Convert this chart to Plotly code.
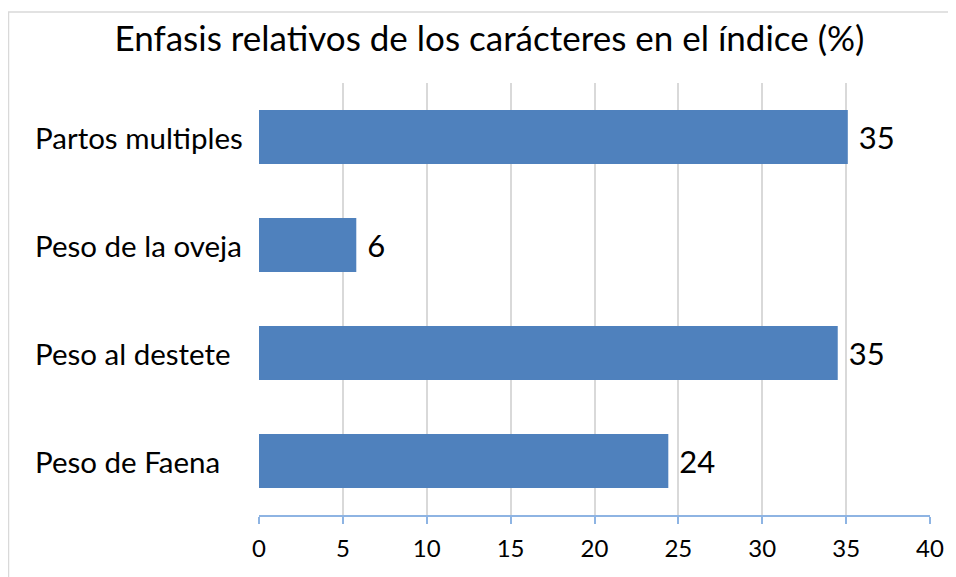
import plotly.graph_objects as go

categories = ["Partos multiples", "Peso de la oveja", "Peso al destete", "Peso de Faena"]
values = [35.1, 5.8, 34.5, 24.4]
value_labels = ["35", "6", "35", "24"]
x_ticks = [0, 5, 10, 15, 20, 25, 30, 35, 40]
title_text = "Enfasis relativos de los carácteres en el índice (%)"

FONT = "Lato"
BAR = "#4f81bd"
AXIS = "#8eb4e3"
GRID = "#d9d9d9"

# page body has an 8px offset; figure coords = screen coords - 8
OFF = 8
W, H = 956 - OFF, 577 - OFF
L = 259 - OFF
R = W - (930 - OFF)
T = 82.5 - OFF
B = H - (515 - OFF)
pw = W - L - R
ph = H - T - B

fig = go.Figure()
fig.add_trace(go.Bar(
    y=categories,
    x=values,
    orientation="h",
    marker=dict(color=BAR, line=dict(width=0)),
    text=[" " + s for s in value_labels],
    textposition="outside",
    constraintext="none",
    cliponaxis=False,
    textfont=dict(family=FONT, size=31, color="#000000"),
    hoverinfo="skip",
))

annotations = []
for c in categories:
    annotations.append(dict(
        x=(33 - OFF - L) / pw, xref="paper", y=c, yref="y",
        text=c, showarrow=False, xanchor="left", yanchor="middle",
        font=dict(family=FONT, size=29.5, color="#000000"),
    ))

fig.update_layout(
    width=W, height=H,
    margin=dict(l=L, r=R, t=T, b=B),
    paper_bgcolor="white", plot_bgcolor="white",
    bargap=0.5,
    showlegend=False,
    title=dict(text=title_text, x=(489.5 - OFF) / W, xref="container", xanchor="center",
               y=1 - (39 - OFF) / H, yref="container", yanchor="middle",
               font=dict(family=FONT, size=35, color="#000000")),
    xaxis=dict(range=[0, 40], tickvals=x_ticks, ticktext=[str(t) for t in x_ticks],
               showgrid=True, gridcolor=GRID, gridwidth=1.5, zeroline=False,
               showline=True, linecolor=AXIS, linewidth=2,
               ticks="outside", ticklen=7, tickcolor=AXIS, tickwidth=2,
               ticklabelstandoff=4,
               tickfont=dict(family=FONT, size=24, color="#000000"),
               fixedrange=True),
    yaxis=dict(categoryorder="array", categoryarray=categories, autorange="reversed",
               showticklabels=False, showgrid=False, zeroline=False, showline=False,
               fixedrange=True),
    annotations=annotations,
    shapes=[dict(type="rect", xref="paper", yref="paper",
                 x0=(0.5 - L) / pw, x1=(W + 10 - L) / pw,
                 y0=(T + ph - (H + 10)) / ph, y1=(T + ph - (11.5 - OFF)) / ph,
                 line=dict(color=GRID, width=1.5), fillcolor="rgba(0,0,0,0)", layer="below")],
)

fig.write_html("out.html")
